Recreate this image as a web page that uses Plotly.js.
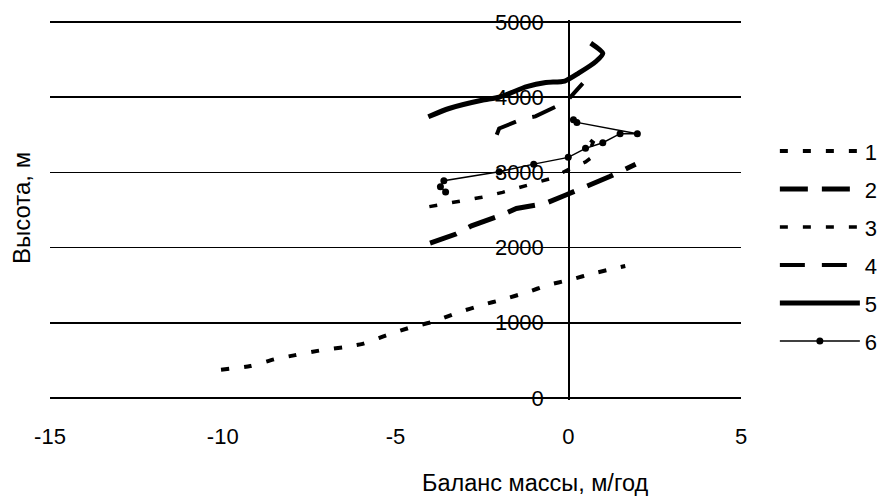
<!DOCTYPE html>
<html>
<head>
<meta charset="utf-8">
<script src="https://cdn.plot.ly/plotly-3.0.1.min.js"></script>
<style>html,body{margin:0;padding:0;background:#fff;}#chart{width:880px;height:497px;}</style>
</head>
<body>
<div id="chart"></div>
<script>
// Series names (legend labels)
const seriesNames = ["1", "2", "3", "4", "5", "6"];
// Mass balance (m/yr) and altitude (m)
const s1x = [-10.05, -9.2, -8.5, -7.9, -7.15, -6.5, -5.95, -5.25, -4.55, -3.9, -3.2, -2.5, -1.9, -1.2, -0.6, 0.03, 0.8, 1.65];
const s1y = [375, 425, 515, 570, 635, 675, 720, 835, 940, 1015, 1135, 1235, 1310, 1405, 1500, 1570, 1665, 1755];
const s2x = [-4.0, -3.25, -2.8, -2.0, -1.5, -1.2, -0.65, -0.07, 0.7, 1.2, 1.95];
const s2y = [2060, 2180, 2290, 2420, 2520, 2545, 2590, 2700, 2845, 2945, 3110];
const s3x = [-4.02, -3.2, -2.5, -1.9, -1.2, -0.5, 0.08, 0.5, 0.72, 0.62, 0.72, 0.5];
const s3y = [2545, 2610, 2670, 2735, 2830, 2920, 3055, 3140, 3215, 3300, 3400, 3480];
const s4x = [-2.07, -2.0, -1.3, -0.95, -0.2, 0.03, 0.42];
const s4y = [3500, 3585, 3715, 3745, 3910, 3985, 4185];
const s5x = [-4.05, -3.45, -2.5, -2.0, -1.2, -0.65, -0.1, 0.3, 0.8, 1.0, 0.65];
const s5y = [3740, 3850, 3960, 4000, 4140, 4195, 4215, 4320, 4475, 4585, 4720];
const s6x = [-3.55, -3.7, -3.6, -2.0, -1.0, 0.0, 0.5, 1.0, 1.5, 2.0, 0.25, 0.15];
const s6y = [2740, 2810, 2890, 3010, 3110, 3200, 3320, 3395, 3515, 3515, 3665, 3700];
// Axis ticks
const xTicks = [-15, -10, -5, 0, 5];
const yTicks = [0, 1000, 2000, 3000, 4000, 5000];

const FONT = "Liberation Sans, Arial, sans-serif";
const xs = [s1x, s2x, s3x, s4x, s5x, s6x];
const ys = [s1y, s2y, s3y, s4y, s5y, s6y];
const styles = [
  {width: 4, dash: "8px,15px", shape: "spline"},
  {width: 5, dash: "28px,14px", shape: "linear"},
  {width: 3.5, dash: "8px,15px", shape: "linear"},
  {width: 4, dash: "25px,17px", shape: "linear"},
  {width: 5, dash: "solid", shape: "spline"},
  {width: 1.5, dash: "solid", shape: "linear"}
];
const traces = seriesNames.map((n, i) => ({
  type: "scatter",
  mode: i === 5 ? "lines+markers" : "lines",
  name: n,
  legendgroup: "g" + i,
  x: xs[i], y: ys[i],
  line: {color: "#000", width: styles[i].width, dash: styles[i].dash, shape: styles[i].shape, smoothing: 0.6},
  marker: {color: "#000", size: 7, symbol: "circle"},
  hoverinfo: "skip"
}));

const layout = {
  width: 880, height: 497,
  margin: {l: 50, r: 139, t: 20, b: 97, autoexpand: false},
  paper_bgcolor: "#fff", plot_bgcolor: "#fff",
  font: {family: FONT, size: 22, color: "#000"},
  showlegend: true,
  legend: {x: 1.049, xanchor: "left", y: 0.71, yanchor: "top", itemwidth: 80,
           font: {family: FONT, size: 22, color: "#000"}, tracegroupgap: 6.4,
           bgcolor: "rgba(0,0,0,0)", borderwidth: 0},
  xaxis: {range: [-15, 5], tickvals: xTicks, ticktext: xTicks.map(String),
          showgrid: false, zeroline: false, showline: false,
          ticks: "", ticklabelstandoff: 21, tickfont: {family: FONT, size: 22, color: "#000"}},
  yaxis: {range: [-27, 5027], tickvals: yTicks, ticktext: yTicks.map(String),
          anchor: "free", position: 0.75, side: "left",
          showgrid: true, gridcolor: "#000", gridwidth: 1.5, zeroline: false,
          showline: true, linecolor: "#000", linewidth: 1.5,
          ticks: "", ticklabelstandoff: 20, tickfont: {family: FONT, size: 22, color: "#000"}},
  annotations: [
    {text: "Баланс массы, м/год", xref: "paper", yref: "paper", x: 0.702, y: -0.2545,
     xanchor: "center", yanchor: "bottom", showarrow: false, borderpad: 0,
     font: {family: FONT, size: 23.5, color: "#000"}},
    {text: "Высота, м", xref: "paper", yref: "paper", x: -0.042, y: 0.505, textangle: -90,
     xanchor: "center", yanchor: "middle", showarrow: false, font: {family: FONT, size: 24, color: "#000"}}
  ]
};

Plotly.newPlot("chart", traces, layout, {displayModeBar: false, staticPlot: true}).then(gd => {
  // lengthen legend line samples to match the reference
  gd.querySelectorAll(".legend .legendlines path").forEach(p => p.setAttribute("d", "M5,0h80"));
  gd.querySelectorAll(".legend .legendpoints path.scatterpts").forEach(p => p.setAttribute("transform", "translate(45,0)"));
});
</script>
</body>
</html>
